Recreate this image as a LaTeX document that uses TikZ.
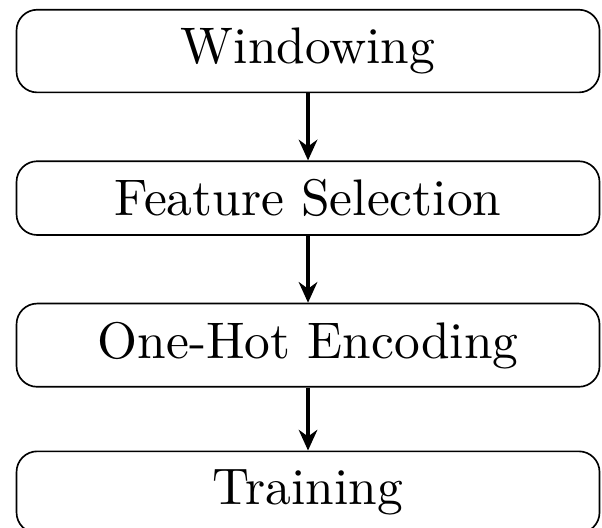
\documentclass[tikz,border=0pt]{standalone}
\usepackage{fontspec}
\setmainfont{lmroman10-regular}[Extension=.otf]
\usetikzlibrary{arrows.meta, positioning}
\begin{document}
\begin{tikzpicture}[>={Stealth[length=10pt,width=9pt]}, font=\Huge]
    % Styles for the pipeline stages and the links between them
    \tikzstyle{stage} = [draw, thick, rectangle, rounded corners=10pt, minimum width=282pt, inner ysep=8.8pt]
    \tikzstyle{link} = [ultra thick, ->]

    % Page frame (last stage runs off the bottom)
    \useasboundingbox (-149pt,24.7pt) rectangle (142.2pt,-230.3pt);

    % Stages placement
    \node [stage] (windowing) {Windowing};
    \node [stage, below of=windowing, node distance=2.5cm] (selection) {Feature Selection};
    \node [stage, below of=selection, node distance=2.5cm] (encoding) {One-Hot Encoding};
    \node [stage, below of=encoding, node distance=2.5cm] (training) {Training};

    % Draw edges
    \draw[link] (windowing) -- (selection);
    \draw[link] (selection) -- (encoding);
    \draw[link] (encoding) -- (training);
\end{tikzpicture}
\end{document}
